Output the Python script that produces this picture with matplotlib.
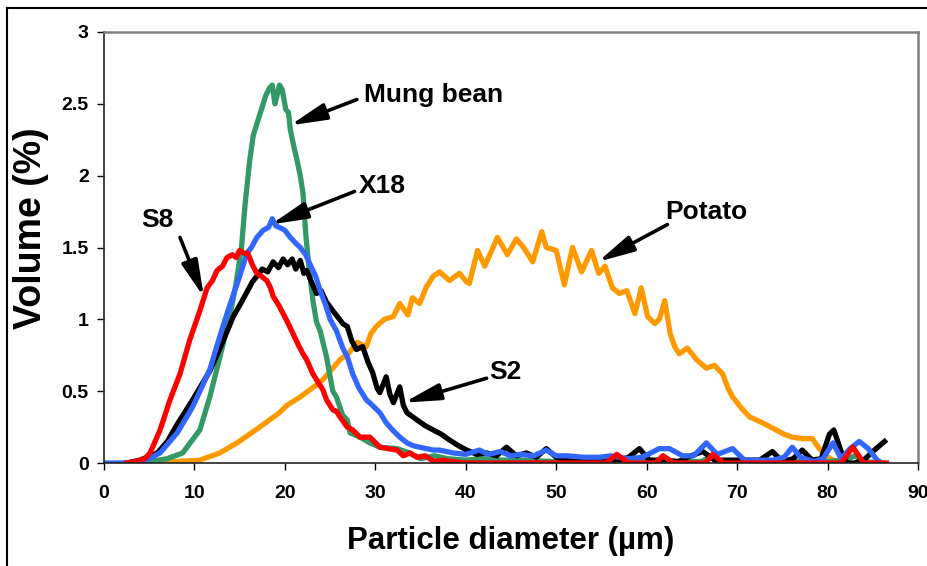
import matplotlib
matplotlib.use("Agg")
import matplotlib.pyplot as plt
from matplotlib.lines import Line2D
from matplotlib.ticker import FuncFormatter

plt.rcParams['font.family'] = ['Liberation Sans', 'DejaVu Sans']
plt.rcParams['font.weight'] = 'bold'

# Particle size distributions (volume %) against particle diameter (µm)
mung_x = [3, 5, 7, 8.7, 10.6, 11.7, 13.1, 13.9, 14.6, 15.2, 15.6, 16.1, 16.5, 17.0, 17.5,
          17.9, 18.3, 18.6, 18.9, 19.1, 19.4, 19.7, 20.1, 20.4, 20.6, 21.0, 21.3, 21.7,
          22.0, 22.3, 22.6, 23.1, 23.5, 23.9, 24.6, 25.3, 25.7, 26.4, 26.9, 27.2, 28.3,
          29.4, 30.5, 32.4, 33.8, 35.0, 36.5, 38.0, 40.0, 42.0, 44.0, 46.0, 50.0, 54.0,
          56.0, 57.0, 58.0, 62.0, 66.0, 67.0, 68.0, 72.0, 76.0, 80.0, 82.0, 83.0, 84.0, 86.0]
mung_y = [0.0, 0.01, 0.03, 0.07, 0.23, 0.46, 0.81, 1.02, 1.25, 1.5, 1.8, 2.1, 2.28, 2.38, 2.48,
          2.56, 2.61, 2.63, 2.5, 2.55, 2.63, 2.6, 2.46, 2.44, 2.32, 2.2, 2.12, 2.0,
          1.88, 1.6, 1.4, 1.13, 0.98, 0.92, 0.74, 0.5, 0.46, 0.33, 0.3, 0.21, 0.18,
          0.14, 0.11, 0.1, 0.07, 0.03, 0.05, 0.03, 0.02, 0.03, 0.02, 0.02, 0.01, 0.01,
          0.02, 0.04, 0.01, 0.01, 0.01, 0.04, 0.01, 0.01, 0.01, 0.01, 0.02, 0.05, 0.01, 0.0]

x18_x = [0, 2, 4.3, 6.2, 8.1, 9.8, 11.7, 12.8, 13.6, 14.3, 15.0, 15.8, 16.3, 16.9, 17.6, 18.2,
         18.6, 19.0, 19.4, 20.0, 20.6, 21.2, 21.7, 22.3, 22.8, 23.4, 23.9, 24.5, 25.0, 25.7,
         26.4, 26.9, 27.5, 28.2, 29.0, 29.7, 30.5, 31.2, 31.9, 32.7, 33.5, 34.2, 34.9, 36.4,
         37.1, 38.6, 40.0, 41.5, 42.5, 43.8, 45.0, 46.0, 47.5, 48.9, 50.0, 51.2, 53.0, 54.8,
         56.0, 58.0, 59.5, 61.4, 62.5, 64.0, 65.2, 66.6, 67.8, 69.5, 70.8, 74.0, 75.2, 76.1,
         77.0, 78.5, 79.5, 80.6, 81.5, 82.5, 83.5, 84.5, 85.5, 86.0]
x18_y = [0.0, 0.0, 0.01, 0.07, 0.21, 0.39, 0.65, 0.88, 1.04, 1.17, 1.3, 1.46, 1.5, 1.57, 1.62, 1.64,
         1.7, 1.65, 1.64, 1.62, 1.57, 1.53, 1.5, 1.45, 1.38, 1.3, 1.2, 1.1, 1.0, 0.92,
         0.8, 0.74, 0.62, 0.52, 0.44, 0.4, 0.35, 0.28, 0.23, 0.18, 0.14, 0.12, 0.11, 0.09,
         0.09, 0.07, 0.06, 0.09, 0.06, 0.08, 0.05, 0.06, 0.05, 0.09, 0.05, 0.05, 0.04, 0.04,
         0.05, 0.03, 0.04, 0.1, 0.1, 0.05, 0.05, 0.14, 0.06, 0.1, 0.02, 0.02, 0.04, 0.11,
         0.04, 0.01, 0.03, 0.14, 0.03, 0.1, 0.15, 0.1, 0.02, 0.0]

s2_x = [2.5, 4.0, 5.9, 7.0, 8.1, 9.8, 11.7, 13.1, 14.3, 15.2, 15.8, 16.4, 16.9, 17.5, 18.1,
        18.7, 19.3, 19.8, 20.3, 20.8, 21.2, 21.7, 22.1, 22.4, 23.0, 23.5, 24.0, 24.6, 25.3,
        25.8, 26.4, 26.9, 27.4, 27.9, 28.6, 29.2, 29.7, 30.2, 30.5, 31.2, 31.6, 32.0, 32.7,
        33.1, 33.5, 34.6, 35.5, 36.4, 37.3, 38.2, 39.2, 40.1, 41.2, 42.3, 43.4, 44.5, 45.6,
        46.7, 47.8, 48.9, 50.0, 51.0, 53.0, 55.0, 57.0, 58.0, 59.2, 60.3, 62.1, 63.5, 64.5,
        66.2, 67.5, 70.0, 72.5, 73.9, 75.0, 76.2, 77.2, 78.3, 79.3, 80.2, 80.7, 81.5, 82.1,
        83.0, 84.0, 85.0, 86.3]
s2_y = [0.0, 0.02, 0.07, 0.15, 0.27, 0.44, 0.64, 0.84, 1.02, 1.12, 1.19, 1.26, 1.3, 1.35, 1.33,
        1.4, 1.36, 1.42, 1.38, 1.42, 1.35, 1.41, 1.32, 1.34, 1.25, 1.18, 1.2, 1.12, 1.06,
        1.02, 0.97, 0.95, 0.85, 0.79, 0.81, 0.7, 0.63, 0.52, 0.49, 0.6, 0.48, 0.42, 0.53,
        0.4, 0.35, 0.3, 0.26, 0.23, 0.2, 0.16, 0.12, 0.09, 0.06, 0.07, 0.05, 0.11, 0.05,
        0.07, 0.04, 0.1, 0.04, 0.02, 0.02, 0.02, 0.02, 0.04, 0.1, 0.02, 0.02, 0.01, 0.04,
        0.08, 0.02, 0.02, 0.02, 0.08, 0.01, 0.03, 0.09, 0.02, 0.03, 0.2, 0.23, 0.08, 0.0,
        0.0, 0.02, 0.08, 0.15]

s8_x = [2.5, 3.5, 4.5, 5.1, 6.2, 7.3, 8.4, 9.5, 10.6, 11.4, 12.0, 12.5, 13.1, 13.6, 14.2,
        14.6, 15.0, 15.5, 15.9, 16.4, 16.9, 17.4, 18.0, 18.4, 18.7, 19.3, 19.8, 20.3, 20.9,
        21.5, 22.0, 22.4, 23.1, 23.5, 24.2, 24.6, 25.3, 25.7, 26.1, 26.9, 27.5, 28.3, 29.4,
        30.5, 31.4, 32.4, 33.1, 33.8, 34.6, 35.5, 36.5, 37.5, 38.5, 40.0, 45.0, 50.0, 55.5,
        56.7, 58.0, 61.0, 61.8, 63.0, 66.5, 67.3, 68.5, 81.5, 82.8, 84.0, 86.5]
s8_y = [0.0, 0.01, 0.03, 0.07, 0.23, 0.44, 0.62, 0.86, 1.06, 1.22, 1.27, 1.34, 1.37, 1.43, 1.45,
        1.43, 1.48, 1.46, 1.46, 1.38, 1.32, 1.3, 1.27, 1.22, 1.16, 1.1, 1.04, 0.98, 0.9,
        0.82, 0.76, 0.72, 0.62, 0.58, 0.51, 0.44, 0.37, 0.36, 0.32, 0.25, 0.23, 0.18, 0.18,
        0.11, 0.1, 0.09, 0.05, 0.07, 0.04, 0.05, 0.01, 0.02, 0.01, 0.0, 0.0, 0.0, 0.0,
        0.06, 0.0, 0.0, 0.05, 0.0, 0.0, 0.06, 0.0, 0.0, 0.11, 0.0, 0.0]

potato_x = [6.0, 8.0, 10.6, 12.8, 14.7, 17.0, 19.4, 20.2, 21.7, 23.0, 24.2, 25.3, 26.1, 27.0,
            28.0, 28.6, 29.0, 29.5, 30.1, 31.0, 32.0, 32.7, 33.6, 34.1, 34.9, 35.6, 36.4, 37.1,
            38.2, 39.3, 40.1, 40.4, 41.3, 42.1, 43.5, 44.6, 45.6, 46.4, 47.4, 48.4, 48.9, 50.0,
            50.9, 51.8, 52.8, 53.9, 54.7, 55.4, 56.2, 57.0, 57.8, 58.7, 59.4, 60.1, 60.9, 61.4,
            62.0, 62.6, 63.1, 63.6, 64.5, 65.5, 66.6, 67.5, 68.4, 69.0, 69.5, 70.5, 71.4, 72.8,
            74.3, 75.2, 76.1, 77.2, 78.3, 79.1, 79.8, 80.6, 81.5]
potato_y = [0.0, 0.01, 0.02, 0.07, 0.14, 0.24, 0.35, 0.4, 0.46, 0.52, 0.58, 0.66, 0.72, 0.76,
            0.84, 0.82, 0.81, 0.9, 0.95, 1.0, 1.02, 1.11, 1.03, 1.15, 1.11, 1.22, 1.3, 1.33,
            1.27, 1.32, 1.26, 1.25, 1.48, 1.37, 1.57, 1.45, 1.56, 1.5, 1.4, 1.61, 1.5, 1.48,
            1.24, 1.5, 1.33, 1.48, 1.32, 1.37, 1.22, 1.18, 1.2, 1.04, 1.22, 1.02, 0.97, 1.0,
            1.13, 0.9, 0.81, 0.76, 0.8, 0.72, 0.66, 0.68, 0.62, 0.52, 0.46, 0.38, 0.32, 0.28,
            0.23, 0.2, 0.18, 0.17, 0.17, 0.1, 0.05, 0.02, 0.01]

x_ticks = [0, 10, 20, 30, 40, 50, 60, 70, 80, 90]
y_ticks = [0, 0.5, 1, 1.5, 2, 2.5, 3]

fig = plt.figure(figsize=(9.28, 5.66), dpi=100)
ax = fig.add_axes([104 / 928, 1 - 463 / 566, (918 - 104) / 928, (463 - 32) / 566])

lw = 3.8
ax.plot(potato_x, potato_y, color='#FF9900', lw=lw, solid_joinstyle='round')
ax.plot(mung_x, mung_y, color='#339966', lw=lw, solid_joinstyle='round')
ax.plot(s2_x, s2_y, color='black', lw=lw, solid_joinstyle='round')
ax.plot(x18_x, x18_y, color='#3366FF', lw=lw, solid_joinstyle='round')
ax.plot(s8_x, s8_y, color='#FF0000', lw=lw, solid_joinstyle='round')

ax.set_xlim(0, 90)
ax.set_ylim(0, 3)
ax.set_xticks(x_ticks)
ax.set_yticks(y_ticks)
ax.yaxis.set_major_formatter(FuncFormatter(lambda v, p: f"{v:g}"))
ax.tick_params(direction='out', length=5, width=1, labelsize=14, colors='black')
ax.tick_params(axis='x', pad=11)
ax.tick_params(axis='y', pad=6)
for lab in ax.get_xticklabels() + ax.get_yticklabels():
    lab.set_fontweight('bold')

for side in ('left', 'bottom'):
    ax.spines[side].set_color('#222222')
    ax.spines[side].set_linewidth(1.2)
for side in ('top', 'right'):
    ax.spines[side].set_color('#808080')
    ax.spines[side].set_linewidth(1.8)

ax.set_xlabel('Particle diameter (µm)', fontsize=22.5, fontweight='bold', labelpad=17)
ax.set_ylabel('Volume (%)', fontsize=27, fontweight='bold')
ax.yaxis.set_label_coords(-0.068, 0.545)

# Curve labels with arrows
labels = [
    ('Mung bean', (36.4, 2.56), (27.96, 2.53), (20.55, 2.35)),
    ('X18', (30.8, 1.93), (27.7, 1.89), (18.45, 1.66)),
    ('S8', (5.86, 1.69), (8.4, 1.57), (11.05, 1.155)),
    ('Potato', (66.6, 1.75), (62.3, 1.66), (54.6, 1.40)),
    ('S2', (44.4, 0.63), (42.3, 0.59), (33.15, 0.42)),
]
for text, tpos, tail, tip in labels:
    ax.text(tpos[0], tpos[1], text, fontsize=19, fontweight='bold',
            ha='center', va='center')
    ax.annotate('', xy=tip, xytext=tail,
                arrowprops=dict(arrowstyle='-|>,head_length=2.2,head_width=0.5',
                                lw=2.6, color='black', shrinkA=0, shrinkB=0,
                                mutation_scale=10))

# Outer frame around the chart
fig.add_artist(Line2D([7 / 928, 7 / 928], [0, 1 - 8 / 566], transform=fig.transFigure,
                      color='black', lw=1.5))
fig.add_artist(Line2D([7 / 928, 1], [1 - 8 / 566, 1 - 8 / 566], transform=fig.transFigure,
                      color='black', lw=1.5))

fig.savefig('out.png', dpi=100)
